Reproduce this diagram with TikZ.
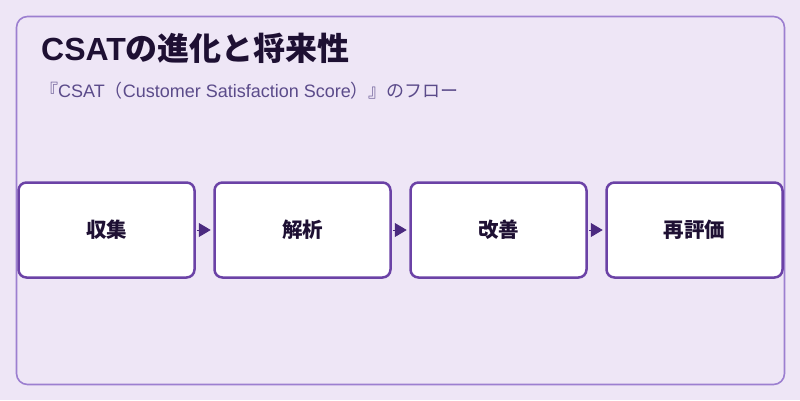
\documentclass[tikz,border=0pt]{standalone}
\usepackage{fontspec}
\setmainfont{Noto Sans CJK JP}
\newfontfamily\lat{Liberation Sans}
\usetikzlibrary{arrows.meta}
\definecolor{bgc}{HTML}{EEE6F6}
\definecolor{framec}{HTML}{9C7FD0}
\definecolor{boxc}{HTML}{6B42A6}
\definecolor{arrc}{HTML}{4B2A80}
\definecolor{titlec}{HTML}{1E1033}
\definecolor{subc}{HTML}{5B4B8A}
\tikzset{
  stepbox/.style={draw=boxc, line width=2.5pt, fill=white, rounded corners=8pt,
    minimum width=176pt, minimum height=95pt, inner sep=0pt,
    font=\fontsize{20.5pt}{24pt}\selectfont\bfseries, text=titlec},
  flowarrow/.style={draw=arrc, line width=1pt, -{Triangle[length=12pt,width=14pt]},
    shorten >=2.5pt, shorten <=1pt}
}
\begin{document}
\begin{tikzpicture}[x=1pt,y=-1pt]
\useasboundingbox (0,0) rectangle (800,400);
\fill[bgc] (0,0) rectangle (800,400);
\draw[framec, line width=1.6pt, rounded corners=11pt] (16.5,16.5) rectangle (784.5,384.5);
\node[anchor=base west, inner sep=0pt, text=titlec, font=\fontsize{32pt}{36pt}\selectfont\bfseries] (title) at (41,60) {{\lat\bfseries CSAT}の進化と将来性};
\node[anchor=base west, inner sep=0pt, text=subc, font=\fontsize{18pt}{22pt}\selectfont] (sub) at (40,97) {『{\lat CSAT}（{\lat Customer Satisfaction Score}）』のフロー};
\node[stepbox] (b1) at (106.5,230) {収集};
\node[stepbox] (b2) at (302.5,230) {解析};
\node[stepbox] (b3) at (498.5,230) {改善};
\node[stepbox] (b4) at (694.5,230) {再評価};
\draw[flowarrow] (b1.east) -- (b2.west);
\draw[flowarrow] (b2.east) -- (b3.west);
\draw[flowarrow] (b3.east) -- (b4.west);
\end{tikzpicture}
\end{document}
